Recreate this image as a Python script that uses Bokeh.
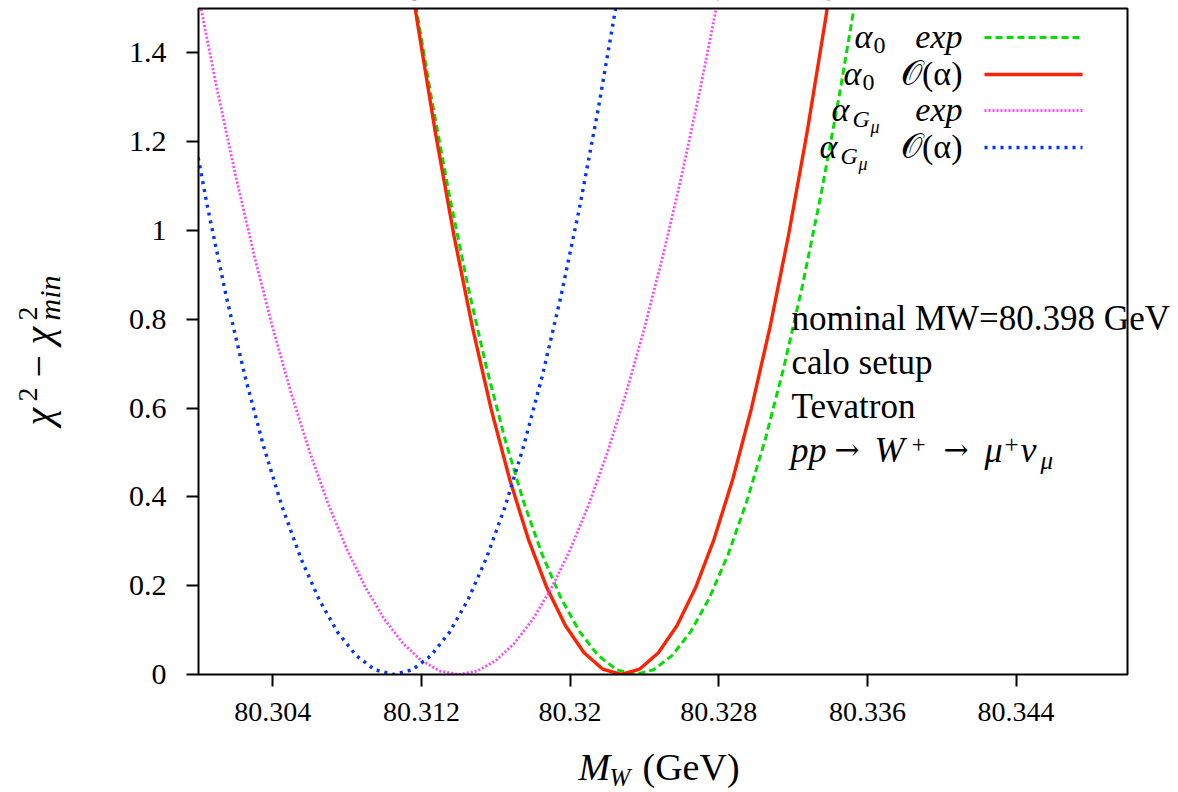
import math
from bokeh.plotting import figure
from bokeh.models import Range1d, FixedTicker, Label, LinearAxis
from bokeh.embed import file_html
from bokeh.resources import INLINE

# ---------------- data ----------------
mw_a0_exp = [80.3115, 80.3125, 80.3135, 80.3145, 80.3155, 80.3165, 80.3175, 80.3185,
             80.3195, 80.3205, 80.3215, 80.3225, 80.3235, 80.3245, 80.3255, 80.3265,
             80.3275, 80.3285, 80.3295, 80.3305, 80.3315, 80.3325, 80.3335, 80.3345, 80.3355]
chi_a0_exp = [1.5552, 1.3068, 1.0800, 0.8748, 0.6912, 0.5292, 0.3888, 0.2700,
              0.1728, 0.0972, 0.0432, 0.0108, 0.0, 0.0108, 0.0432, 0.0972,
              0.1728, 0.2700, 0.3888, 0.5292, 0.6912, 0.8748, 1.0800, 1.3068, 1.5552]

mw_a0_oa = [80.31075, 80.31175, 80.31275, 80.31375, 80.31475, 80.31575, 80.31675, 80.31775,
            80.31875, 80.31975, 80.32075, 80.32175, 80.32275, 80.32375, 80.32475, 80.32575,
            80.32675, 80.32775, 80.32875, 80.32975, 80.33075, 80.33175, 80.33275, 80.33375, 80.33475]
chi_a0_oa = [1.7568, 1.4762, 1.2200, 0.9882, 0.7808, 0.5978, 0.4392, 0.3050,
             0.1952, 0.1098, 0.0488, 0.0122, 0.0, 0.0122, 0.0488, 0.1098,
             0.1952, 0.3050, 0.4392, 0.5978, 0.7808, 0.9882, 1.2200, 1.4762, 1.7568]

mw_agmu_exp = [80.299, 80.300, 80.301, 80.302, 80.303, 80.304, 80.305, 80.306, 80.307, 80.308,
               80.309, 80.310, 80.311, 80.312, 80.313, 80.314, 80.315, 80.316, 80.317, 80.318,
               80.319, 80.320, 80.321, 80.322, 80.323, 80.324, 80.325, 80.326, 80.327, 80.328, 80.329]
chi_agmu_exp = [1.7550, 1.5288, 1.3182, 1.1232, 0.9438, 0.7800, 0.6318, 0.4992, 0.3822, 0.2808,
                0.1950, 0.1248, 0.0702, 0.0312, 0.0078, 0.0, 0.0078, 0.0312, 0.0702, 0.1248,
                0.1950, 0.2808, 0.3822, 0.4992, 0.6318, 0.7800, 0.9438, 1.1232, 1.3182, 1.5288, 1.7550]

mw_agmu_oa = [80.2995, 80.3005, 80.3015, 80.3025, 80.3035, 80.3045, 80.3055, 80.3065,
              80.3075, 80.3085, 80.3095, 80.3105, 80.3115, 80.3125, 80.3135, 80.3145,
              80.3155, 80.3165, 80.3175, 80.3185, 80.3195, 80.3205, 80.3215, 80.3225]
chi_agmu_oa = [1.2705, 1.0500, 0.8505, 0.6720, 0.5145, 0.3780, 0.2625, 0.1680,
               0.0945, 0.0420, 0.0105, 0.0, 0.0105, 0.0420, 0.0945, 0.1680,
               0.2625, 0.3780, 0.5145, 0.6720, 0.8505, 1.0500, 1.2705, 1.5120]

x_ticks = [80.304, 80.312, 80.32, 80.328, 80.336, 80.344]
x_tick_labels = ["80.304", "80.312", "80.32", "80.328", "80.336", "80.344"]
y_ticks = [0.0, 0.2, 0.4, 0.6, 0.8, 1.0, 1.2, 1.4]
y_tick_labels = ["0", "0.2", "0.4", "0.6", "0.8", "1", "1.2", "1.4"]

annotation_lines = ["nominal MW=80.398 GeV", "calo setup", "Tevatron"]

# ---------------- layout ----------------
W, H = 1178, 792
FL, FR, FT, FB = 198, 1127, 8, 674          # plot box in canvas pixels
X0, X1, Y0, Y1 = 80.300, 80.350, 0.0, 1.5   # plot box in data units
KX = (X1 - X0) / (FR - FL)
KY = (Y1 - Y0) / (FB - FT)
XL, XR = X0 - FL * KX, X1 + (W - FR) * KX
YB, YT = Y0 - (H - FB) * KY, Y1 + FT * KY
SERIF = "Liberation Serif"

p = figure(width=W, height=H, x_range=Range1d(XL, XR), y_range=Range1d(YB, YT),
           output_backend="svg", toolbar_location=None,
           x_axis_location=None, y_axis_location=None,
           min_border_left=0, min_border_right=0, min_border_top=0, min_border_bottom=0)
p.background_fill_color = "white"
p.border_fill_color = "white"
p.outline_line_color = None
p.xgrid.visible = False
p.ygrid.visible = False

# ---------------- curves ----------------
GREEN, RED, MAGENTA, BLUE = "#00e000", "#ff2200", "#ff44ff", "#0033ff"
styles = [
    (mw_a0_exp, chi_a0_exp, GREEN, 3, "7 4"),
    (mw_a0_oa, chi_a0_oa, RED, 3.4, "solid"),
    (mw_agmu_exp, chi_agmu_exp, MAGENTA, 2.8, "2 2"),
    (mw_agmu_oa, chi_agmu_oa, BLUE, 3.4, "3 5"),
]
for xs, ys, col, lw, dash in styles:
    p.line(xs, ys, line_color=col, line_width=lw, line_dash=dash, line_join="round")

# white masks outside the plot box (clip the curves to the box), then the box itself
p.quad(left=[XL, X1, XL, XL], right=[X0, XR, XR, XR],
       bottom=[YB, YB, YB, Y1], top=[YT, YT, Y0, YT],
       fill_color="white", line_color=None)
p.quad(left=[X0], right=[X1], bottom=[Y0], top=[Y1],
       fill_color=None, line_color="black", line_width=2)

# ---------------- axes (Bokeh axes pinned to the box edges) ----------------
xaxis = LinearAxis(fixed_location=Y0)
yaxis = LinearAxis(fixed_location=X0)
for ax, ticks, labels, size, standoff in ((xaxis, x_ticks, x_tick_labels, "28px", 16),
                                          (yaxis, y_ticks, y_tick_labels, "30px", 20)):
    ax.ticker = FixedTicker(ticks=ticks)
    ax.major_label_overrides = dict(zip(ticks, labels))
    ax.minor_tick_line_color = None
    ax.axis_line_color = None
    ax.major_tick_in = 0
    ax.major_tick_out = 12
    ax.major_tick_line_width = 2
    ax.major_tick_line_color = "black"
    ax.major_label_text_font = SERIF
    ax.major_label_text_font_size = size
    ax.major_label_text_color = "black"
    ax.major_label_standoff = standoff
p.add_layout(xaxis, "below")
p.add_layout(yaxis, "left")

# ---------------- helpers for text placement (canvas pixels, top-left origin, baseline) ----------------
def lab(text, px, py, size, italic=False, align="left", angle=0.0, font=SERIF):
    shift = 0.3 * size  # compensate Bokeh's alphabetic-baseline offset
    if angle == 0.0:
        x, y = px, H - (py - shift)
    else:
        x, y = px - shift, H - py
    p.add_layout(Label(x=x, y=y, x_units="screen", y_units="screen",
                       text=text, text_font=font, text_font_size=f"{size}px",
                       text_font_style="italic" if italic else "normal",
                       text_align=align, text_baseline="alphabetic",
                       angle=angle, text_color="black"))

def dx(px):
    return X0 + (px - FL) * KX

def dy(py):
    return Y0 + (FB - py) * KY

# ---------------- legend (gnuplot style: text right-aligned, key on the right) ----------------
key_rows = [37, 74, 110, 147]
for (xs, ys, col, lw, dash), ky in zip(styles, key_rows):
    p.line([dx(984), dx(1082)], [dy(ky), dy(ky)], line_color=col, line_width=lw, line_dash=dash)

# row 1: alpha_0   exp
lab("α", 854, 46, 34, italic=True)
lab("0", 873, 52, 24)
lab("exp", 962, 46, 34, italic=True, align="right")
# row 2: alpha_0 O(alpha)
lab("α", 843, 83, 34, italic=True)
lab("0", 862, 89, 24)
lab("𝒪(α)", 962, 83, 34, align="right")
# row 3: alpha_{G_mu}   exp
lab("α", 831, 119, 34, italic=True)
lab("G", 852, 126, 24, italic=True)
lab("μ", 870, 132, 18, italic=True)
lab("exp", 962, 119, 34, italic=True, align="right")
# row 4: alpha_{G_mu} O(alpha)
lab("α", 819, 156, 34, italic=True)
lab("G", 840, 163, 24, italic=True)
lab("μ", 858, 169, 18, italic=True)
lab("𝒪(α)", 962, 156, 34, align="right")

# ---------------- annotation block ----------------
for txt, by in zip(annotation_lines, [328, 372, 416]):
    lab(txt, 791, by, 35)
lab("pp", 790, 460, 36, italic=True)
lab("→", 834, 458, 30, font="DejaVu Serif")
lab("W", 874, 460, 36, italic=True)
lab("+", 911, 451, 25)
lab("→", 943, 458, 30, font="DejaVu Serif")
lab("μ", 984, 460, 36, italic=True)
lab("+", 1004, 451, 25)
lab("ν", 1020, 460, 36, italic=True)
lab("μ", 1040, 467, 25, italic=True)

# ---------------- axis titles ----------------
lab("M", 578, 778, 38, italic=True)
lab("W", 609, 784, 25, italic=True)
lab("(GeV)", 642, 778, 38)

A = math.pi / 2
lab("χ", 50, 425, 40, italic=True, angle=A)
lab("2", 36, 401, 28, angle=A)
lab("−", 50, 377, 40, angle=A)
lab("χ", 50, 344, 40, italic=True, angle=A)
lab("2", 36, 320, 28, angle=A)
lab("min", 58, 320, 30, italic=True, angle=A)

open("out.html", "w").write(file_html(p, INLINE))
